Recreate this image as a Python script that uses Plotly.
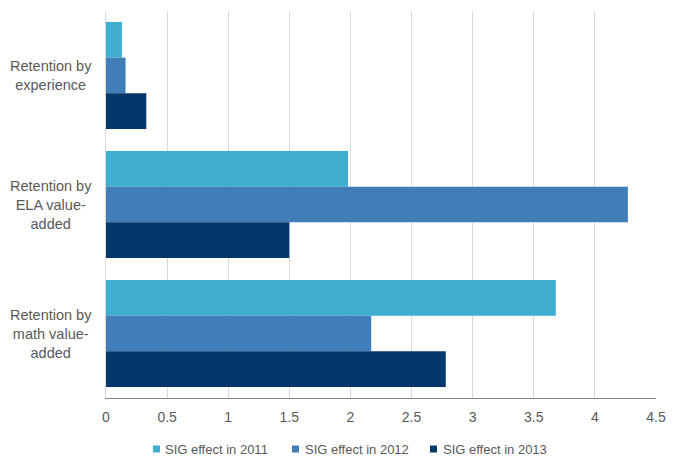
import plotly.graph_objects as go

categories = ["Retention by experience", "Retention by ELA value-added", "Retention by math value-added"]
category_labels = ["Retention by<br>experience", "Retention by<br>ELA value-<br>added", "Retention by<br>math value-<br>added"]
series_names = ["SIG effect in 2011", "SIG effect in 2012", "SIG effect in 2013"]
values_2011 = [0.13, 1.98, 3.68]
values_2012 = [0.16, 4.27, 2.17]
values_2013 = [0.33, 1.50, 2.78]
x_ticks = [0, 0.5, 1, 1.5, 2, 2.5, 3, 3.5, 4, 4.5]
x_tick_labels = ["0", "0.5", "1", "1.5", "2", "2.5", "3", "3.5", "4", "4.5"]

colors = ["#3EADD0", "#407DB9", "#06376A"]
font_family = "Liberation Sans, Arial, sans-serif"
text_color = "#595959"

W, H = 678, 460
ML, MR, MT, MB = 106, 22, 11, 62
PW, PH = W - ML - MR, H - MT - MB


def px_x(px):
    return (px - ML) / PW


def px_y(py):
    return (H - MB - py) / PH


fig = go.Figure()
for name, vals, col in zip(series_names, [values_2011, values_2012, values_2013], colors):
    fig.add_trace(go.Bar(
        y=categories, x=vals, name=name, orientation="h",
        marker=dict(color=col, line=dict(width=0)),
        showlegend=False,
    ))

for cat, lab in zip(categories, category_labels):
    fig.add_annotation(
        x=0, xref="paper", y=cat, yref="y", text=lab, showarrow=False,
        xanchor="right", yanchor="middle", xshift=-12, align="center",
        font=dict(family=font_family, size=14.5, color=text_color),
    )

# manual legend (layout only)
legend_square_left = [153, 292, 430]
legend_text_left = [163, 303, 441]
legend_y = 449
for name, col, sq, tx in zip(series_names, colors, legend_square_left, legend_text_left):
    fig.add_shape(
        type="rect", xref="paper", yref="paper",
        x0=px_x(sq), x1=px_x(sq + 7), y0=px_y(legend_y + 3.5), y1=px_y(legend_y - 3.5),
        fillcolor=col, line=dict(width=0),
    )
    fig.add_annotation(
        x=px_x(tx), xref="paper", y=px_y(legend_y), yref="paper", text=name,
        showarrow=False, xanchor="left", yanchor="middle",
        font=dict(family=font_family, size=13, color=text_color),
    )

fig.update_layout(
    width=W, height=H,
    margin=dict(l=ML, r=MR, t=MT, b=MB, autoexpand=False),
    paper_bgcolor="white", plot_bgcolor="white",
    barmode="group", bargap=0.17, bargroupgap=0,
    font=dict(family=font_family, size=14, color=text_color),
    showlegend=False,
    xaxis=dict(
        range=[0, 4.5], tickvals=x_ticks, ticktext=x_tick_labels,
        showgrid=True, gridcolor="#D9D9D9", gridwidth=1,
        zeroline=False, showline=True, linecolor="#868686", linewidth=1,
        ticks="", ticklabelstandoff=6, tickfont=dict(size=14, color=text_color),
    ),
    yaxis=dict(
        autorange="reversed", showticklabels=False, showgrid=False,
        zeroline=False, showline=True, linecolor="#D9D9D9", linewidth=1, ticks="",
    ),
)

fig.write_html("out.html")
